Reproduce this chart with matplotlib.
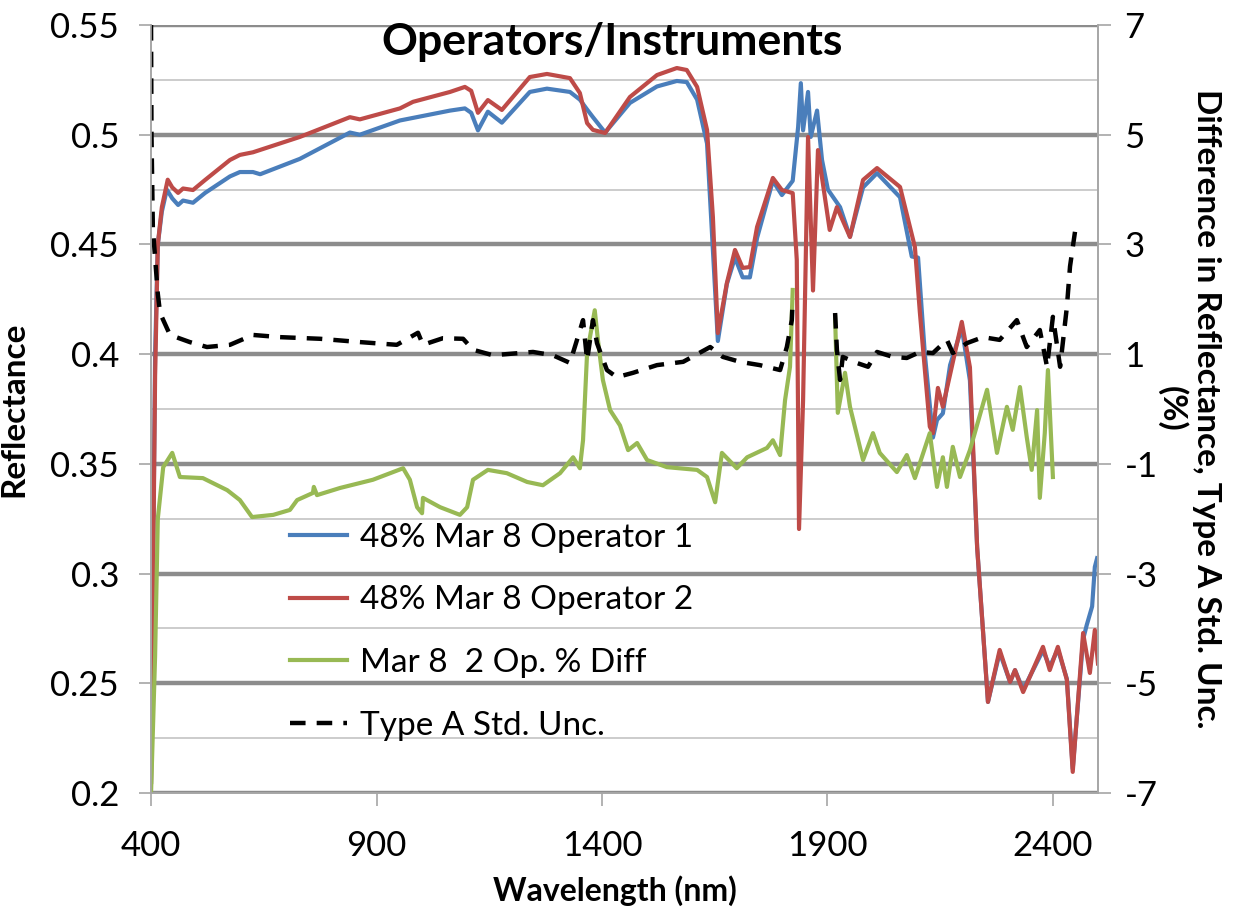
import numpy as np
import matplotlib.pyplot as plt
from matplotlib.ticker import FuncFormatter

plt.rcParams['font.family'] = ['Lato', 'DejaVu Sans']
plt.rcParams['axes.unicode_minus'] = False

# ---- data (wavelength in nm) ----
op1_nm = [400, 409, 415, 424, 435, 447, 460, 471, 493, 520, 575, 597, 626, 642, 730, 841, 863, 952,
          1063, 1096, 1110, 1125, 1147, 1178, 1240, 1278, 1329, 1351, 1367, 1380, 1407, 1462, 1522,
          1566, 1588, 1611, 1633, 1646, 1657, 1677, 1695, 1712, 1728, 1744, 1779, 1799, 1823, 1835,
          1841, 1846, 1857, 1863, 1877, 1888, 1901, 1928, 1950, 1979, 2010, 2061, 2087, 2101, 2116,
          2134, 2143, 2156, 2172, 2198, 2216, 2232, 2256, 2282, 2305, 2316, 2334, 2378, 2393, 2411,
          2431, 2444, 2467, 2475, 2487, 2493, 2498]
op1_refl = [0.205, 0.40, 0.45, 0.465, 0.475, 0.471, 0.468, 0.470, 0.469, 0.4735, 0.481, 0.483, 0.483,
            0.482, 0.489, 0.501, 0.500, 0.5065, 0.511, 0.512, 0.510, 0.502, 0.5105, 0.5055, 0.5195,
            0.521, 0.5195, 0.516, 0.5115, 0.508, 0.501, 0.5145, 0.522, 0.5245, 0.524, 0.516, 0.496,
            0.4475, 0.406, 0.432, 0.444, 0.435, 0.435, 0.453, 0.479, 0.4725, 0.479, 0.5035, 0.5235,
            0.502, 0.5195, 0.499, 0.511, 0.4885, 0.475, 0.467, 0.4535, 0.476, 0.4825, 0.4715, 0.4445,
            0.444, 0.40, 0.362, 0.37, 0.373, 0.395, 0.412, 0.388, 0.312, 0.2415, 0.264, 0.2506, 0.256,
            0.247, 0.265, 0.2575, 0.2655, 0.252, 0.211, 0.27, 0.2765, 0.285, 0.303, 0.307]

op2_nm = [400, 409, 415, 424, 437, 447, 460, 471, 493, 520, 575, 597, 626, 730, 841, 863, 952, 981,
          1063, 1096, 1110, 1125, 1147, 1178, 1240, 1278, 1329, 1351, 1367, 1380, 1407, 1462, 1522,
          1566, 1588, 1611, 1633, 1646, 1657, 1677, 1695, 1712, 1728, 1744, 1779, 1799, 1823, 1832,
          1837, 1846, 1857, 1868, 1879, 1905, 1921, 1950, 1979, 2010, 2061, 2094, 2105, 2127, 2134,
          2145, 2156, 2198, 2216, 2232, 2256, 2282, 2305, 2316, 2334, 2378, 2393, 2411, 2431, 2444,
          2467, 2482, 2493, 2500]
op2_refl = [0.205, 0.39, 0.45, 0.467, 0.4795, 0.476, 0.4735, 0.4755, 0.4748, 0.4794, 0.4885, 0.4908,
            0.492, 0.499, 0.508, 0.507, 0.512, 0.515, 0.5195, 0.5218, 0.520, 0.510, 0.5158, 0.5113,
            0.5263, 0.5277, 0.5258, 0.519, 0.5053, 0.5022, 0.5008, 0.5172, 0.5272, 0.5304, 0.5295,
            0.5218, 0.5022, 0.4625, 0.4096, 0.4324, 0.4475, 0.4393, 0.4397, 0.458, 0.4803, 0.4748,
            0.4734, 0.443, 0.3203, 0.379, 0.499, 0.429, 0.493, 0.4566, 0.467, 0.4534, 0.4794, 0.4848,
            0.4762, 0.4488, 0.419, 0.367, 0.364, 0.3846, 0.376, 0.4147, 0.394, 0.312, 0.2415, 0.2652,
            0.2506, 0.256, 0.246, 0.2666, 0.256, 0.2666, 0.2515, 0.2096, 0.2729, 0.2547, 0.2743, 0.259]

diff_nm = [400, 409, 415, 427, 447, 464, 515, 569, 597, 624, 671, 708, 724, 759, 761, 768, 819, 892,
           959, 974, 990, 1001, 1003, 1041, 1085, 1101, 1114, 1147, 1189, 1234, 1269, 1307, 1336,
           1351, 1358, 1367, 1384, 1391, 1402, 1418, 1440, 1458, 1478, 1500, 1544, 1611, 1633, 1651,
           1666, 1699, 1722, 1766, 1779, 1795, 1806, 1817, 1823, 1870, 1917, 1923, 1939, 1950, 1979,
           2001, 2016, 2054, 2076, 2094, 2127, 2143, 2156, 2165, 2178, 2194, 2216, 2254, 2276, 2298,
           2311, 2327, 2342, 2353, 2365, 2371, 2382, 2389, 2400]
diff_pct = [-7.0, -4.5, -2.0, -1.06, -0.80, -1.24, -1.26, -1.48, -1.66, -1.97, -1.93, -1.84, -1.66,
            -1.53, -1.42, -1.57, -1.44, -1.29, -1.08, -1.29, -1.79, -1.90, -1.62, -1.79, -1.93, -1.79,
            -1.29, -1.11, -1.17, -1.33, -1.39, -1.17, -0.88, -1.08, -0.57, 1.02, 1.80, 1.26, 0.53,
            -0.02, -0.30, -0.75, -0.62, -0.93, -1.06, -1.11, -1.24, -1.70, -0.80, -1.08, -0.88, -0.71,
            -0.57, -0.84, 0.16, 0.77, 2.17, np.nan, 1.68, -0.07, 0.66, 0.04, -0.93, -0.44, -0.80,
            -1.15, -0.84, -1.26, -0.44, -1.42, -0.88, -1.42, -0.69, -1.24, -0.75, 0.35, -0.80, 0.04,
            -0.38, 0.40, -0.51, -1.11, -0.02, -1.62, -0.44, 0.71, -1.24]

unc_nm = [400, 401, 404, 415, 420, 442, 486, 524, 575, 626, 686, 775, 863, 945, 992, 1003, 1047, 1092,
          1114, 1158, 1247, 1291, 1329, 1358, 1367, 1380, 1389, 1411, 1433, 1469, 1522, 1580, 1640,
          1668, 1706, 1750, 1795, 1810, 1821, 1823, 1870, 1917, 1921, 1928, 1934, 1965, 1990, 2010,
          2045, 2076, 2105, 2134, 2165, 2178, 2209, 2245, 2282, 2320, 2342, 2371, 2387, 2400, 2416,
          2431, 2438, 2449]
unc_pct = [7.0, 5.0, 3.3, 2.1, 1.75, 1.35, 1.22, 1.13, 1.17, 1.35, 1.31, 1.28, 1.22, 1.17, 1.39, 1.17,
           1.29, 1.28, 1.08, 0.98, 1.04, 0.98, 0.84, 1.62, 0.89, 1.62, 1.20, 0.71, 0.58, 0.66, 0.80,
           0.86, 1.13, 0.95, 0.86, 0.80, 0.71, 1.13, 1.62, 2.0, np.nan, 1.75, 1.08, 0.53, 0.95, 0.84,
           0.77, 1.04, 0.95, 0.93, 1.04, 1.02, 1.26, 1.02, 1.20, 1.31, 1.26, 1.62, 1.13, 1.44, 0.77,
           1.68, 0.77, 1.86, 2.6, 3.23]

labels = ['48% Mar 8 Operator 1', '48% Mar 8 Operator 2', 'Mar 8  2 Op. % Diff', 'Type A Std. Unc.']
colors = ['#4a7ebb', '#be4b48', '#98b954', '#000000']

# ---- figure ----
fig = plt.figure(figsize=(12.33, 9.1), dpi=100)
ax = fig.add_axes([0.1225, 0.1286, 0.768, 0.8439])
ax2 = ax.twinx()

l1, = ax.plot(op1_nm, op1_refl, color=colors[0], lw=3.0, label=labels[0])
l2, = ax.plot(op2_nm, op2_refl, color=colors[1], lw=3.0, label=labels[1])
l3, = ax2.plot(diff_nm, diff_pct, color=colors[2], lw=3.0, label=labels[2])
l4, = ax2.plot(unc_nm, unc_pct, color=colors[3], lw=3.2, dashes=(3.5, 2.5), label=labels[3])

ax.set_xlim(400, 2500)
ax.set_ylim(0.2, 0.55)
ax2.set_ylim(-7, 7)

ax.set_xticks([400, 900, 1400, 1900, 2400])
ax.set_yticks(np.arange(0.2, 0.551, 0.05))
ax.set_yticks(np.arange(0.225, 0.55, 0.05), minor=True)
ax.yaxis.set_major_formatter(FuncFormatter(lambda v, p: '%g' % round(v, 3)))
ax2.set_yticks(np.arange(-7, 8, 2))

ax.grid(True, axis='y', which='major', color='#8c8c8c', lw=3.2)
ax.grid(True, axis='y', which='minor', color='#c8c8c8', lw=1.3)
ax.set_axisbelow(True)

for a in (ax, ax2):
    for s in a.spines.values():
        s.set_color('#a6a6a6')
        s.set_linewidth(1.2)
    a.spines['top'].set_visible(False)
ax.tick_params(axis='both', which='major', labelsize=25, length=9, color='#a6a6a6', width=1.2)
ax.tick_params(axis='y', which='minor', length=0)
ax.tick_params(axis='x', pad=18)
ax.tick_params(axis='y', pad=14)
ax2.tick_params(axis='y', labelsize=25, length=9, color='#a6a6a6', width=1.2, pad=10)

ax.set_xlabel('Wavelength (nm)', fontsize=23, fontweight='bold', va='top')
ax.xaxis.set_label_coords(0.49, -0.107)
ax.set_ylabel('Reflectance', fontsize=24, fontweight='bold')
ax.yaxis.set_label_coords(-0.13, 0.5)
ax2.set_ylabel('Difference in Reflectance, Type A Std. Unc.\n(%)', fontsize=24,
               fontweight='bold', rotation=-90, va='center', ha='center', multialignment='center')
ax2.yaxis.set_label_coords(1.096, 0.5)

ax.text(0.487, 0.978, 'Operators/Instruments', transform=ax.transAxes, ha='center', va='center',
        fontsize=32, fontweight='bold')

ax2.legend(handles=[l1, l2, l3, l4], loc='upper left', bbox_to_anchor=(0.147, 0.352),
           frameon=False, fontsize=24, handlelength=1.7, handletextpad=0.4, labelspacing=0.98,
           borderpad=0, borderaxespad=0)

fig.savefig('out.png', dpi=100)
